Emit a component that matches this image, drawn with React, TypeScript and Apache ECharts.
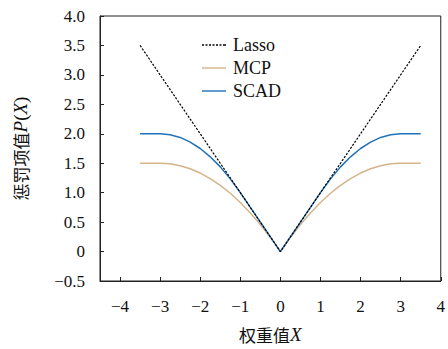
import React, { useEffect, useRef } from "react";
import * as echarts from "echarts";

const xValues = [-3.5, -3.25, -3, -2.75, -2.5, -2.25, -2, -1.75, -1.5, -1.25, -1, -0.75, -0.5, -0.25, 0, 0.25, 0.5, 0.75, 1, 1.25, 1.5, 1.75, 2, 2.25, 2.5, 2.75, 3, 3.25, 3.5];
const lassoValues = [3.5, 3.25, 3, 2.75, 2.5, 2.25, 2, 1.75, 1.5, 1.25, 1, 0.75, 0.5, 0.25, 0, 0.25, 0.5, 0.75, 1, 1.25, 1.5, 1.75, 2, 2.25, 2.5, 2.75, 3, 3.25, 3.5];
const mcpValues = [1.5, 1.5, 1.5, 1.49, 1.458, 1.406, 1.333, 1.24, 1.125, 0.99, 0.833, 0.656, 0.458, 0.24, 0, 0.24, 0.458, 0.656, 0.833, 0.99, 1.125, 1.24, 1.333, 1.406, 1.458, 1.49, 1.5, 1.5, 1.5];
const scadValues = [2, 2, 2, 1.984, 1.938, 1.859, 1.75, 1.609, 1.438, 1.234, 1, 0.75, 0.5, 0.25, 0, 0.25, 0.5, 0.75, 1, 1.234, 1.438, 1.609, 1.75, 1.859, 1.938, 1.984, 2, 2, 2];
const xTicks = [-4, -3, -2, -1, 0, 1, 2, 3, 4];
const seriesNames = ["Lasso", "MCP", "SCAD"];

const serif = "Liberation Serif";
const cjk = "Noto Sans CJK SC";

const fmt = (v: number) => {
  if (Math.abs(v) < 1e-9) return "0";
  return (v < 0 ? "\u2212" : "") + Math.abs(v).toFixed(0);
};
const fmtY = (v: number) => {
  if (Math.abs(v) < 1e-9) return "0";
  return (v < 0 ? "\u2212" : "") + Math.abs(v).toFixed(1);
};

const solidIcon = "path://M0 0H24V1.4H0Z";
const dashedIcon =
  "path://M0 0h2v1.4h-2zM3.5 0h2v1.4h-2zM7 0h2v1.4h-2zM10.5 0h2v1.4h-2zM14 0h2v1.4h-2zM17.5 0h2v1.4h-2zM21 0h2v1.4h-2zM22.6 0h1.4v1.4h-1.4z";

export default function App() {
  const ref = useRef<HTMLDivElement>(null);
  useEffect(() => {
    if (!ref.current) return;
    const chart = echarts.init(ref.current, undefined, { renderer: "svg" });
    const pair = (vals: number[]) => xValues.map((x, i) => [x, vals[i]]);
    chart.setOption({
      animation: false,
      backgroundColor: "#ffffff",
      grid: {
        left: 100,
        top: 16,
        width: 341,
        height: 266,
        show: true,
        borderColor: "#222",
        borderWidth: 1,
        backgroundColor: "transparent",
      },
      legend: {
        orient: "vertical",
        left: 197,
        top: 31,
        itemWidth: 24,
        itemHeight: 1.4,
        itemGap: 5,
        textStyle: { fontFamily: serif, fontSize: 18, color: "#111", padding: [0, 0, 0, 2] },
        data: [
          { name: seriesNames[0], icon: dashedIcon },
          { name: seriesNames[1], icon: solidIcon },
          { name: seriesNames[2], icon: solidIcon },
        ],
      },
      xAxis: {
        type: "value",
        min: -4.5,
        max: 4,
        splitLine: { show: false },
        axisLine: { show: true, onZero: false, lineStyle: { color: "#222" } },
        axisTick: { show: true, inside: true, length: 4, customValues: xTicks, lineStyle: { color: "#222" } },
        axisLabel: { customValues: xTicks, formatter: fmt, fontFamily: serif, fontSize: 17, color: "#111", margin: 17 },
        name: "{a|权重值}{i|X}",
        nameLocation: "middle",
        nameGap: 44,
        nameTextStyle: {
          rich: {
            a: { fontFamily: cjk, fontSize: 17, color: "#111" },
            i: { fontFamily: serif, fontStyle: "italic", fontSize: 19, color: "#111" },
          },
        },
      },
      yAxis: {
        type: "value",
        min: -0.5,
        max: 4,
        interval: 0.5,
        splitLine: { show: false },
        axisLine: { show: true, onZero: false, lineStyle: { color: "#222" } },
        axisTick: { show: true, inside: true, length: 4, lineStyle: { color: "#222" } },
        axisLabel: { formatter: fmtY, fontFamily: serif, fontSize: 17, color: "#111", margin: 15 },
        name: "{a|惩罚项值}{i|P}{b|(}{i|X}{b|)}",
        nameLocation: "middle",
        nameGap: 70,
        nameTextStyle: {
          rich: {
            a: { fontFamily: cjk, fontSize: 17, color: "#111" },
            b: { fontFamily: serif, fontSize: 19, color: "#111" },
            i: { fontFamily: serif, fontStyle: "italic", fontSize: 19, color: "#111" },
          },
        },
      },
      series: [
        {
          name: "Lasso",
          type: "line",
          data: pair(lassoValues),
          symbol: "none",
          lineStyle: { color: "#000", width: 1.2, type: [2.2, 1.5] },
          itemStyle: { color: "#000" },
          z: 3,
        },
        {
          name: "MCP",
          type: "line",
          data: pair(mcpValues),
          symbol: "none",
          lineStyle: { color: "#d4b48c", width: 1.5 },
          itemStyle: { color: "#d4b48c" },
          z: 2,
        },
        {
          name: "SCAD",
          type: "line",
          data: pair(scadValues),
          symbol: "none",
          lineStyle: { color: "#1f72b8", width: 1.5 },
          itemStyle: { color: "#1f72b8" },
          z: 2,
        },
      ],
    });
    return () => chart.dispose();
  }, []);
  return <div ref={ref} style={{ position: "fixed", left: 0, top: 0, width: 448, height: 349 }} />;
}
